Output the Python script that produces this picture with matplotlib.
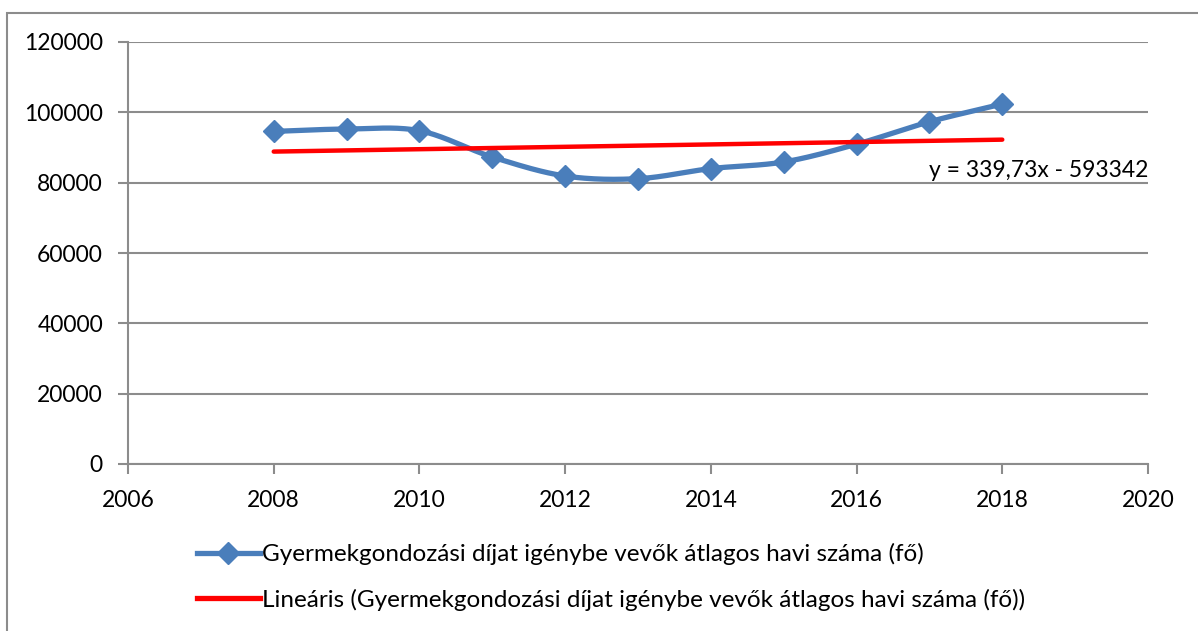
import numpy as np
import matplotlib
matplotlib.use("Agg")
import matplotlib.pyplot as plt
from matplotlib.patches import Rectangle

plt.rcParams['font.family'] = ['Lato', 'DejaVu Sans']

# adatok (leolvasva)
years = [2008, 2009, 2010, 2011, 2012, 2013, 2014, 2015, 2016, 2017, 2018]
values = [94570, 95250, 94770, 87300, 81900, 81140, 84000, 85890, 90940, 97310, 102370]

# trendvonal egyutthatoi a felirat alapjan
trend_slope = 339.73
trend_intercept = -593342
trend_label = "y = 339,73x - 593342"

series_label = "Gyermekgondozási díjat igénybe vevők átlagos havi száma (fő)"
trend_legend = "Lineáris (Gyermekgondozási díjat igénybe vevők átlagos havi száma (fő))"

x_ticks = [2006, 2008, 2010, 2012, 2014, 2016, 2018, 2020]
y_ticks = [0, 20000, 40000, 60000, 80000, 100000, 120000]

BLUE = "#4A7EBB"
RED = "#FF0000"
GRID = "#8C8C8C"


def smooth(xs, ys, n=30):
    # Catmull-Rom simitas, mint az Excel "simitott vonal"
    xs = np.asarray(xs, float)
    ys = np.asarray(ys, float)
    px = np.concatenate([[2 * xs[0] - xs[1]], xs, [2 * xs[-1] - xs[-2]]])
    py = np.concatenate([[2 * ys[0] - ys[1]], ys, [2 * ys[-1] - ys[-2]]])
    out_x, out_y = [], []
    t = np.linspace(0, 1, n, endpoint=False)
    for i in range(1, len(px) - 2):
        for arr, out in ((px, out_x), (py, out_y)):
            p0, p1, p2, p3 = arr[i - 1], arr[i], arr[i + 1], arr[i + 2]
            out.extend(0.5 * (2 * p1 + (-p0 + p2) * t
                              + (2 * p0 - 5 * p1 + 4 * p2 - p3) * t ** 2
                              + (-p0 + 3 * p1 - 3 * p2 + p3) * t ** 3))
    out_x.append(xs[-1])
    out_y.append(ys[-1])
    return np.array(out_x), np.array(out_y)


fig = plt.figure(figsize=(11.98, 6.31), dpi=100)
ax = fig.add_axes([128 / 1198, 1 - 464 / 631, 1020 / 1198, 422 / 631])

# kulso keret (csak a bal es felso el latszik)
fig.patches.append(Rectangle((7 / 1198, -0.05), 1.1, 1 - 13 / 631 + 0.05,
                             transform=fig.transFigure, fill=False,
                             edgecolor=GRID, linewidth=1.5, zorder=0))

sx, sy = smooth(years, values)
ax.plot(sx, sy, color=BLUE, linewidth=3.8, solid_capstyle='round', zorder=3)
ax.plot(years, values, linestyle='none', marker='D', markersize=11,
        color=BLUE, zorder=4)

tx = np.array([years[0], years[-1]])
ty = trend_slope * tx + trend_intercept
ax.plot(tx, ty, color=RED, linewidth=3.2, solid_capstyle='round', zorder=5)

ax.text(2018.5, 80000 + 3600, trend_label, fontsize=16.5, ha='center',
        va='center', color='black')

ax.set_xlim(2006, 2020)
ax.set_ylim(0, 120000)
ax.set_xticks(x_ticks)
ax.set_yticks(y_ticks)
ax.tick_params(axis='both', labelsize=16.5, color=GRID, length=7, width=1.5)
ax.tick_params(axis='x', pad=12)
ax.tick_params(axis='y', pad=11)
ax.yaxis.grid(True, color=GRID, linewidth=1.5)
ax.set_axisbelow(True)
for s in ['top', 'right']:
    ax.spines[s].set_visible(False)
for s in ['left', 'bottom']:
    ax.spines[s].set_color(GRID)
    ax.spines[s].set_linewidth(1.5)

# jelmagyarazat
h1, = ax.plot([], [], color=BLUE, linewidth=3.8, marker='D', markersize=11)
h2, = ax.plot([], [], color=RED, linewidth=3.8)
fig.legend([h1, h2], [series_label, trend_legend], loc='center',
           bbox_to_anchor=(611 / 1198, 1 - 577 / 631), frameon=False,
           fontsize=17.5, handlelength=2.6, handletextpad=0.1,
           labelspacing=0.95)

fig.savefig("out.png", dpi=100)
